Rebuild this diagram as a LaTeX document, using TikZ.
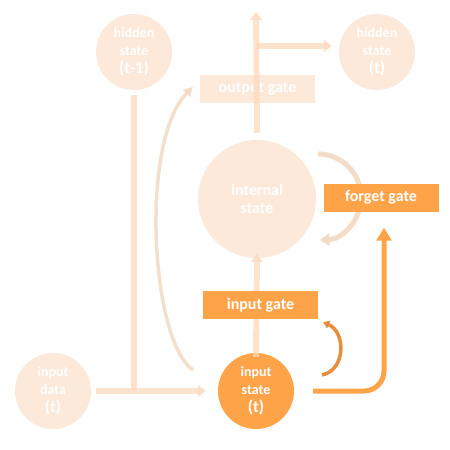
\documentclass[tikz,border=0pt]{standalone}
\usepackage{fontspec}
\setmainfont{Carlito}
\usetikzlibrary{calc, positioning}
\usetikzlibrary{arrows.meta}

\definecolor{peach}{HTML}{FDE9D9}
\definecolor{peachline}{HTML}{FBD9BE}
\definecolor{tanline}{HTML}{F1D7BF}
\definecolor{gateorange}{HTML}{FFA349}
\definecolor{looporange}{HTML}{E68E3C}

\newcommand{\timestep}[1]{{\fontsize{17}{19}\selectfont #1}}

\tikzset{
  state/.style={circle, fill=#1, minimum size=76pt, inner sep=0pt,
    text=white, align=center, font=\bfseries\fontsize{14}{18}\selectfont},
  gate/.style={rectangle, fill=#1, minimum width=115pt, minimum height=28pt,
    inner sep=0pt, text=white, font=\bfseries\fontsize{16}{18}\selectfont},
  flow/.style={draw=peachline, line width=6pt, opacity=0.75,
    -{Triangle[width=12pt,length=8pt]}},
  bigflow/.style={draw=gateorange, line width=5pt,
    -{Triangle[width=15pt,length=13pt]}},
}

\begin{document}
\begin{tikzpicture}[x=1pt,y=-1pt]
\useasboundingbox (0,0) rectangle (450,450);

% Pale states and output gate
\node[state=peach] (hprev) at (134,52) {hidden\\state\\\timestep{(t-1)}};
\node[state=peach] (hcur) at (377,52) {hidden\\state\\\timestep{(t)}};
\node[gate=peach] (outgate) at (257.5,89) {output gate};
\node[state=peach, minimum size=118pt, font=\bfseries\fontsize{16}{18}\selectfont]
  (internal) at (257,199) {internal\\state};
\node[state=peach] (indata) at (53,391) {input\\data\\\timestep{(t)}};

% Current input state
\node[state=gateorange] (instate) at (256,391) {input\\state\\\timestep{(t)}};

% Pale connectors
\coordinate (join) at (hprev |- indata);
\draw[flow, -] ([yshift=-5pt]hprev.south) -- (join);
\draw[flow] ([xshift=5pt]indata.east) -- ([xshift=-12pt]instate.west);
\coordinate (curlstart) at (193,370);
\draw[draw=tanline, line width=3.5pt, opacity=0.8, -{Triangle[width=10pt,length=9pt]}]
  (curlstart) .. controls (150,340) and (140,140) .. ([xshift=-7pt,yshift=2pt]outgate.west);
\draw[flow] ([yshift=-4pt]instate.north) -- ([yshift=4pt]internal.south);
\coordinate (top) at (256,12);
\coordinate (split) at (256,46);
\draw[flow] ([yshift=7pt]internal.north) -- (top);
\draw[flow] (split) -- ([xshift=-7pt,yshift=6pt]hcur.west);

% Forget loop round the internal state
\draw[draw=tanline, line width=5pt, opacity=0.85, -{Triangle[width=12pt,length=10pt]}]
  ([xshift=61pt,yshift=45pt]internal.center) arc[start angle=-90,end angle=88,radius=43];

% Gates
\node[gate=gateorange] (ingate) at (260.5,305) {input gate};
\node[gate=gateorange] (forget) at (381,197.5) {forget gate};

% Orange connectors
\draw[draw=looporange, line width=3.5pt, -{Triangle[width=8pt,length=6pt]}]
  ([xshift=66pt,yshift=16pt]instate.center) .. controls (346,370) and (346,332) .. ([xshift=5pt,yshift=-3pt]ingate.south east);
\draw[bigflow, rounded corners=20pt]
  ([xshift=19pt]instate.east) -| ([xshift=3pt,yshift=-16pt]forget.south);
\end{tikzpicture}
\end{document}
